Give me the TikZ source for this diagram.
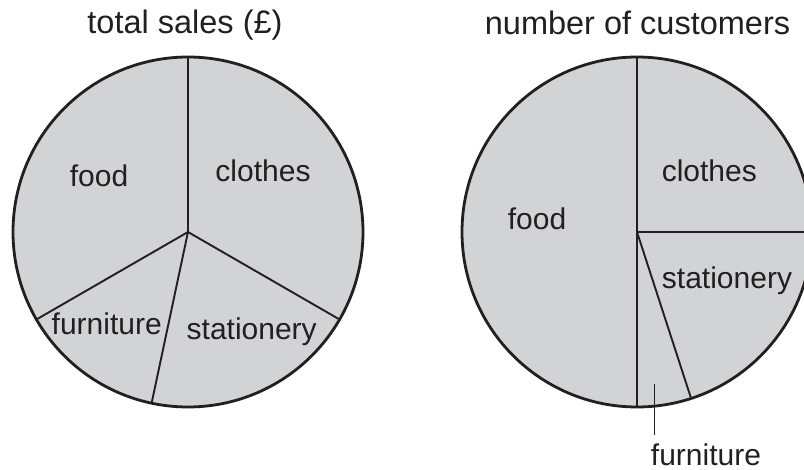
\documentclass[tikz,border=0pt]{standalone}
\usepackage{fontspec}
\setmainfont{Liberation Sans}
\definecolor{piefill}{HTML}{D1D3D4}
\definecolor{ink}{HTML}{231F20}
\tikzset{
  rim/.style={draw=ink, line width=2.8pt},
  spoke/.style={draw=ink, line width=1.9pt},
  pointer/.style={draw=ink, line width=1.4pt},
  lab/.style={text=ink, anchor=base, inner sep=0pt, font=\fontsize{30}{30}\selectfont},
  ttl/.style={text=ink, anchor=base, inner sep=0pt, font=\fontsize{32.5}{32.5}\selectfont}
}
\begin{document}
\begin{tikzpicture}[x=1pt,y=-1pt]
\useasboundingbox (0,0) rectangle (804,470);
\clip (0,0) rectangle (804,470);
% left pie
\coordinate (lc) at (188,232);
\coordinate (lt) at (188,57);
\coordinate (lr) at (339.6,319.5);
\coordinate (lb) at (151.6,403.2);
\coordinate (ll) at (36.4,319.5);
\fill[piefill] (lc) circle[radius=175];
\draw[spoke] (lc) -- (lt);
\draw[spoke] (lc) -- (lr);
\draw[spoke] (lc) -- (lb);
\draw[spoke] (lc) -- (ll);
\draw[rim] (lc) circle[radius=175];
% right pie
\coordinate (rc) at (637,232);
\coordinate (rt) at (637,57);
\coordinate (rb) at (637,407);
\coordinate (rr) at (812,232);
\coordinate (rs) at (691.1,398.4);
\fill[piefill] (rc) circle[radius=175];
\draw[spoke] (rt) -- (rb);
\draw[spoke] (rc) -- (rr);
\draw[spoke] (rc) -- (rs);
\draw[rim] (rc) circle[radius=175];
% titles
\node[ttl] (t1) at (185,33.3) {total sales (£)};
\node[ttl] (t2) at (637.5,35) {number of customers};
% left labels
\node[lab] (lfood) at (99,186.7) {food};
\node[lab] (lcloth) at (263,181.7) {clothes};
\node[lab] (lfurn) at (106.7,335) {furniture};
\node[lab] (lstat) at (251.7,339.3) {stationery};
% right labels
\node[lab] (rcloth) at (709.3,181.7) {clothes};
\node[lab] (rfood) at (537,230) {food};
\node[lab] (rstat) at (727,288.3) {stationery};
\node[lab] (rfurn) at (706,465) {furniture};
\coordinate (pa) at (654.7,384);
\coordinate (pb) at (654.7,435);
\draw[pointer] (pa) -- (pb);
\end{tikzpicture}
\end{document}
